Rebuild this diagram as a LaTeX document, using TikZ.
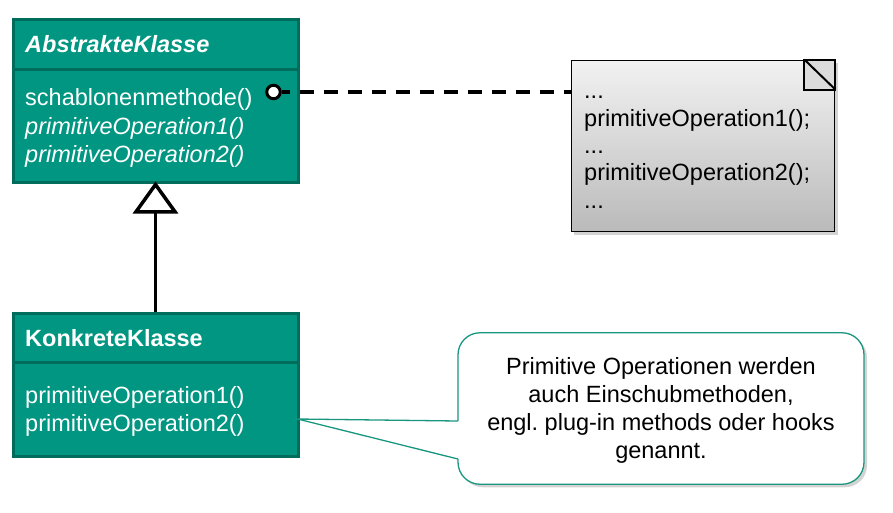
\documentclass[tikz,border=0pt]{standalone}
\usepackage{fontspec}
\setmainfont{Liberation Sans}
\usetikzlibrary{arrows.meta,shadows}
\frenchspacing

\definecolor{klassegruen}{RGB}{0,150,130}
\definecolor{klasserand}{RGB}{0,108,92}
\definecolor{hinweisrand}{RGB}{25,150,128}
\definecolor{notizhell}{RGB}{242,242,242}
\definecolor{notizdunkel}{RGB}{186,186,186}
\definecolor{eckegrau}{RGB}{220,220,220}

\newcommand{\groesse}{\fontsize{23.5}{28}\selectfont}

\tikzset{
  klasse/.style={draw=klasserand, fill=klassegruen, line width=3pt, inner sep=0pt, anchor=north west},
  trenner/.style={draw=klasserand, line width=3pt},
  eintrag/.style={text=white, anchor=base west, inner sep=0pt, font=\groesse},
  notizzeile/.style={text=black, anchor=base west, inner sep=0pt, font=\groesse},
  lolli/.style={circle, draw=black, fill=white, line width=3pt, minimum size=13.5pt, inner sep=0pt},
  verweis/.style={line width=3.5pt, dash pattern=on 14pt off 10pt, dash phase=6pt},
  vererbung/.style={line width=3.5pt, shorten >=-2pt, -{Triangle[open, fill=white, length=32pt, width=45pt]}},
  notiz/.style={draw=black, line width=1.3pt, top color=notizhell, bottom color=notizdunkel,
    drop shadow={shadow xshift=3pt, shadow yshift=-3pt, opacity=0.35}, anchor=north west},
  ecke/.style={draw=black, line width=2pt, fill=eckegrau},
  hinweis/.style={draw=hinweisrand, line width=1.3pt, fill=white, rounded corners=22pt,
    drop shadow={shadow xshift=3pt, shadow yshift=-3pt, opacity=0.35}},
  zeiger/.style={draw=hinweisrand, line width=1.3pt},
}

\begin{document}
\begin{tikzpicture}[x=1pt,y=-1pt]
  \useasboundingbox (0,0) rectangle (893,512);

  % abstrakte Klasse
  \node[klasse, minimum width=285pt, minimum height=163pt] (abstrakt) at (11.5,17.5) {};
  \draw[trenner] (11.5,69) -- (296.5,69);
  \node[eintrag, font=\groesse\bfseries\itshape] (abstraktname) at (25,52) {AbstrakteKlasse};
  \node[eintrag] (schablone) at (25,105) {schablonenmethode()};
  \node[eintrag, font=\groesse\itshape] (abstraktop1) at (25,134) {primitiveOperation1()};
  \node[eintrag, font=\groesse\itshape] (abstraktop2) at (25,162) {primitiveOperation2()};
  \node[lolli] (lolli) at (273.5,92) {};

  % Notiz
  \node[notiz, minimum width=263.5pt, minimum height=171.5pt] (notiz) at (570.5,59.5) {};
  \draw[ecke] (notiz.north east) rectangle ++(-31,30);
  \draw[ecke] (notiz.north east) ++(-31,0) -- ++(31,30);
  \node[notizzeile] (punkte1) at (584,98) {...};
  \node[notizzeile] (aufruf1) at (584,126) {primitiveOperation1();};
  \node[notizzeile] (punkte2) at (584,153) {...};
  \node[notizzeile] (aufruf2) at (584,180) {primitiveOperation2();};
  \node[notizzeile] (punkte3) at (584,208) {...};
  \draw[verweis] (lolli.east) -- (notiz.west |- lolli.east);

  % konkrete Klasse
  \node[klasse, minimum width=285pt, minimum height=143pt] (konkret) at (11.5,312) {};
  \draw[trenner] (11.5,362.7) -- (296.5,362.7);
  \node[eintrag, font=\groesse\bfseries] (konkretname) at (25,346) {KonkreteKlasse};
  \node[eintrag] (konkretop1) at (25,403) {primitiveOperation1()};
  \node[eintrag] (konkretop2) at (25,431.5) {primitiveOperation2()};
  \draw[vererbung] (konkret) -- (abstrakt);

  % Hinweis
  \node[hinweis, minimum width=406pt, minimum height=151.5pt] (hinweis) at (661,408.5) {};
  \coordinate (spitze) at (297.5,419);
  \coordinate (zeigeroben) at (458,421);
  \coordinate (zeigerunten) at (458,459);
  \fill[white] (spitze) -- ([xshift=1.5pt]zeigeroben) -- ([xshift=1.5pt]zeigerunten) -- cycle;
  \draw[zeiger] (zeigeroben) -- (spitze) -- (zeigerunten);
  \node[align=center, font=\groesse, inner sep=0pt] (hinweistext) at ([yshift=-2pt]hinweis.center)
    {Primitive Operationen werden\\auch Einschubmethoden,\\engl. plug-in methods oder hooks\\genannt.};
\end{tikzpicture}
\end{document}
